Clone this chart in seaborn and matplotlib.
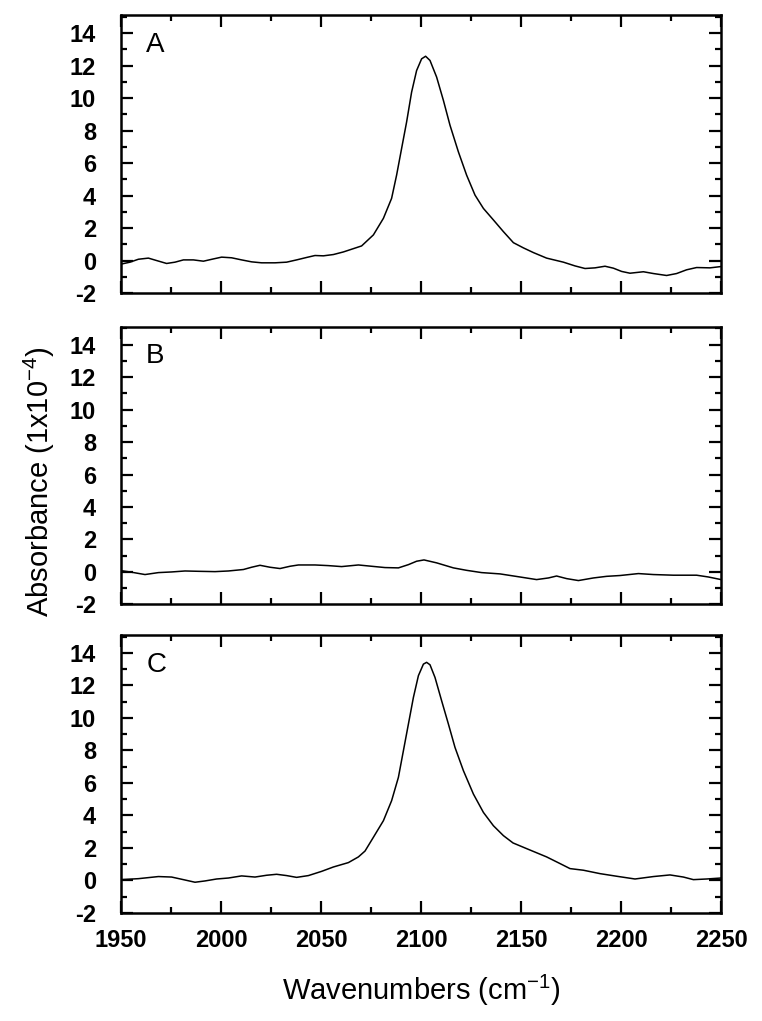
import numpy as np
import pandas as pd
import matplotlib
matplotlib.use("Agg")
import matplotlib.pyplot as plt
import seaborn as sns
from matplotlib.ticker import MultipleLocator

# --- data ---
wn_a = [1950, 1954.5, 1958.7, 1963.7, 1967.8, 1972.8, 1977, 1981.2, 1986.2, 1991.2, 1996.2,
        2000.3, 2005.3, 2010.3, 2015.3, 2020.3, 2027, 2032.8, 2037.8, 2042.8, 2047, 2051.2,
        2056.2, 2061.2, 2070.3, 2076.2, 2081.2, 2085.3, 2087.8, 2090.3, 2092.8, 2095.3,
        2097.8, 2100.3, 2102.3, 2104.5, 2107.8, 2111.2, 2114.5, 2118.7, 2122.8, 2127,
        2131.2, 2136.2, 2141.2, 2146.2, 2151.2, 2156.2, 2162.8, 2171.2, 2177, 2182, 2187,
        2192, 2196.2, 2200.3, 2204.5, 2211.2, 2216.2, 2222.8, 2227.8, 2232.8, 2237.8,
        2244.5, 2250]
abs_a = [-0.22, -0.1, 0.08, 0.15, 0.0, -0.18, -0.1, 0.04, 0.04, -0.04, 0.1,
         0.21, 0.17, 0.04, -0.08, -0.14, -0.14, -0.1, 0.04, 0.19, 0.31, 0.29,
         0.37, 0.53, 0.9, 1.58, 2.6, 3.83, 5.26, 6.9, 8.53, 10.37,
         11.7, 12.42, 12.58, 12.32, 11.3, 9.86, 8.33, 6.69, 5.26, 4.03,
         3.21, 2.5, 1.78, 1.1, 0.78, 0.49, 0.15, -0.1, -0.33, -0.49, -0.45,
         -0.35, -0.47, -0.67, -0.78, -0.69, -0.8, -0.92, -0.8, -0.57, -0.43,
         -0.45, -0.37]

wn_b = [1950, 1954.5, 1962, 1968.7, 1975.3, 1982, 1988.7, 1997, 2003.7, 2011.2, 2015.3,
        2019.5, 2024.5, 2029.5, 2034.5, 2038.7, 2047, 2053.7, 2060.3, 2068.7, 2075.3, 2082,
        2088.7, 2093.7, 2097.8, 2101.5, 2107.8, 2116.2, 2122.8, 2130.3, 2139.5, 2149.5,
        2157.8, 2163.7, 2167.8, 2172.8, 2178.7, 2186.2, 2192.8, 2199.5, 2208.7, 2216.2,
        2226.2, 2237.8, 2243.7, 2250]
abs_b = [0.08, 0.0, -0.16, -0.04, 0.0, 0.06, 0.04, 0.02, 0.06, 0.15, 0.29,
         0.41, 0.29, 0.21, 0.35, 0.43, 0.43, 0.39, 0.33, 0.43, 0.35, 0.27,
         0.25, 0.45, 0.66, 0.74, 0.56, 0.25, 0.1, -0.04, -0.12, -0.31,
         -0.47, -0.37, -0.25, -0.41, -0.53, -0.37, -0.27, -0.22, -0.1, -0.16,
         -0.2, -0.2, -0.31, -0.47]

wn_c = [1950, 1958.7, 1968.7, 1975.3, 1981.2, 1987, 1992, 1997.8, 2003.7, 2010.3, 2017,
        2022.8, 2027.8, 2032.8, 2037.8, 2043.7, 2050.3, 2056.2, 2063.7, 2068.7, 2072,
        2076.2, 2081.2, 2085.3, 2088.7, 2091.2, 2093.7, 2096.2, 2098.7, 2101.2, 2102.8,
        2104.5, 2107, 2110.3, 2113.7, 2117, 2121.2, 2126.2, 2131.2, 2136.2, 2141.2, 2146,
        2152.8, 2162.8, 2169.5, 2174.5, 2181.2, 2189.5, 2197.8, 2207, 2216.2, 2224.5,
        2231.2, 2236.2, 2242.8, 2250]
abs_c = [0.04, 0.1, 0.23, 0.2, 0.04, -0.12, -0.04, 0.08, 0.14, 0.27, 0.2,
         0.31, 0.37, 0.29, 0.18, 0.29, 0.55, 0.82, 1.09, 1.44, 1.8,
         2.65, 3.67, 4.9, 6.34, 7.98, 9.62, 11.26, 12.6, 13.31, 13.42,
         13.27, 12.49, 11.06, 9.62, 8.18, 6.75, 5.31, 4.18, 3.36, 2.75, 2.3,
         1.95, 1.44, 1.03, 0.72, 0.62, 0.41, 0.25, 0.08, 0.23, 0.33,
         0.2, 0.04, 0.08, 0.14]

panel_labels = ["A", "B", "C"]
x_ticks = [1950, 2000, 2050, 2100, 2150, 2200, 2250]
y_ticks = [-2, 0, 2, 4, 6, 8, 10, 12, 14]

# --- style ---
sns.set_style("ticks")
plt.rcParams["font.family"] = ["Liberation Sans", "DejaVu Sans"]
plt.rcParams["mathtext.default"] = "regular"
plt.rcParams["axes.unicode_minus"] = False
for key in ["text.color", "axes.edgecolor", "axes.labelcolor", "xtick.color", "ytick.color"]:
    plt.rcParams[key] = "black"

fig = plt.figure(figsize=(7.62, 10.21), dpi=100)
panel_bottoms = [0.713, 0.408, 0.106]
series = [(wn_a, abs_a), (wn_b, abs_b), (wn_c, abs_c)]

axes = []
for (wn, ab), label, bottom in zip(series, panel_labels, panel_bottoms):
    ax = fig.add_axes([0.1588, bottom, 0.7874, 0.272])
    df = pd.DataFrame({"wn": wn, "abs": ab})
    sns.lineplot(data=df, x="wn", y="abs", ax=ax, color="black", linewidth=1.1)

    ax.set_xlim(1950, 2250)
    ax.set_ylim(-2, 15.1)
    ax.set_xticks(x_ticks)
    ax.set_yticks(y_ticks)
    ax.xaxis.set_minor_locator(MultipleLocator(25))
    ax.yaxis.set_minor_locator(MultipleLocator(1))
    ax.tick_params(which="both", direction="in", top=True, right=True, width=1.6)
    ax.tick_params(which="major", length=8.6)
    ax.tick_params(which="minor", length=4.3)
    ax.tick_params(axis="y", labelsize=17, pad=18)
    ax.tick_params(axis="x", labelsize=17, pad=12)
    for t in ax.get_yticklabels() + ax.get_xticklabels():
        t.set_fontweight("bold")
    for sp in ax.spines.values():
        sp.set_linewidth(1.8)
    ax.set_xlabel("")
    ax.set_ylabel("")
    if label != "C":
        ax.set_xticklabels([])
    ax.text(0.042, 0.94, label, transform=ax.transAxes, fontsize=20, va="top", ha="left")
    axes.append(ax)

fig.text(0.5525, 0.03, "Wavenumbers (cm$^{-1}$)", fontsize=21, ha="center", va="center")
fig.text(0.052, 0.528, "Absorbance (1x10$^{-4}$)", rotation=90, fontsize=21,
         ha="center", va="center")

fig.savefig("out.png", dpi=100)
